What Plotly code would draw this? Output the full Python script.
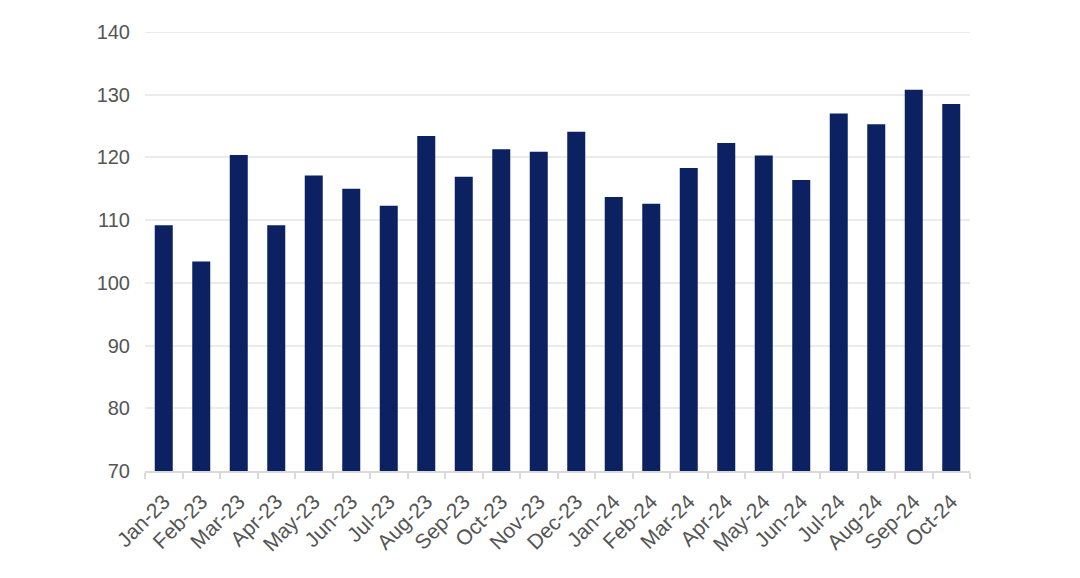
import plotly.graph_objects as go

months = ["Jan-23", "Feb-23", "Mar-23", "Apr-23", "May-23", "Jun-23", "Jul-23", "Aug-23",
          "Sep-23", "Oct-23", "Nov-23", "Dec-23", "Jan-24", "Feb-24", "Mar-24", "Apr-24",
          "May-24", "Jun-24", "Jul-24", "Aug-24", "Sep-24", "Oct-24"]
values = [109.2, 103.4, 120.4, 109.2, 117.1, 115.0, 112.3, 123.4,
          116.9, 121.3, 120.9, 124.1, 113.7, 112.6, 118.3, 122.3,
          120.3, 116.4, 127.0, 125.3, 130.8, 128.5]
y_ticks = [70, 80, 90, 100, 110, 120, 130, 140]

fig = go.Figure(go.Bar(x=months, y=values, marker=dict(color="#0b2161", line=dict(width=0)),
                       hoverinfo="x+y"))

fig.update_layout(
    width=1080, height=578,
    margin=dict(l=137, r=118, t=24, b=115),
    plot_bgcolor="white", paper_bgcolor="white",
    bargap=0.52, showlegend=False,
    font=dict(family="Liberation Sans, Arial, sans-serif", color="#555555", size=20),
    shapes=[dict(type="line", xref="paper", x0=0, x1=1, yref="y", y0=140, y1=140,
                 line=dict(color="#ebebeb", width=2), layer="below")],
)
fig.update_xaxes(
    type="category", tickangle=-45, tickfont=dict(size=21),
    showline=True, linecolor="#d9d9d9", linewidth=2,
    ticks="outside", tickson="boundaries", ticklen=6, tickcolor="#d9d9d9", tickwidth=2,
    showgrid=False, ticklabelstandoff=8,
)
fig.update_yaxes(
    range=[70, 140], tickvals=y_ticks, showgrid=True, gridcolor="#ebebeb", gridwidth=2,
    zeroline=False, ticks="", ticklabelstandoff=14,
)

fig.write_html("out.html")
